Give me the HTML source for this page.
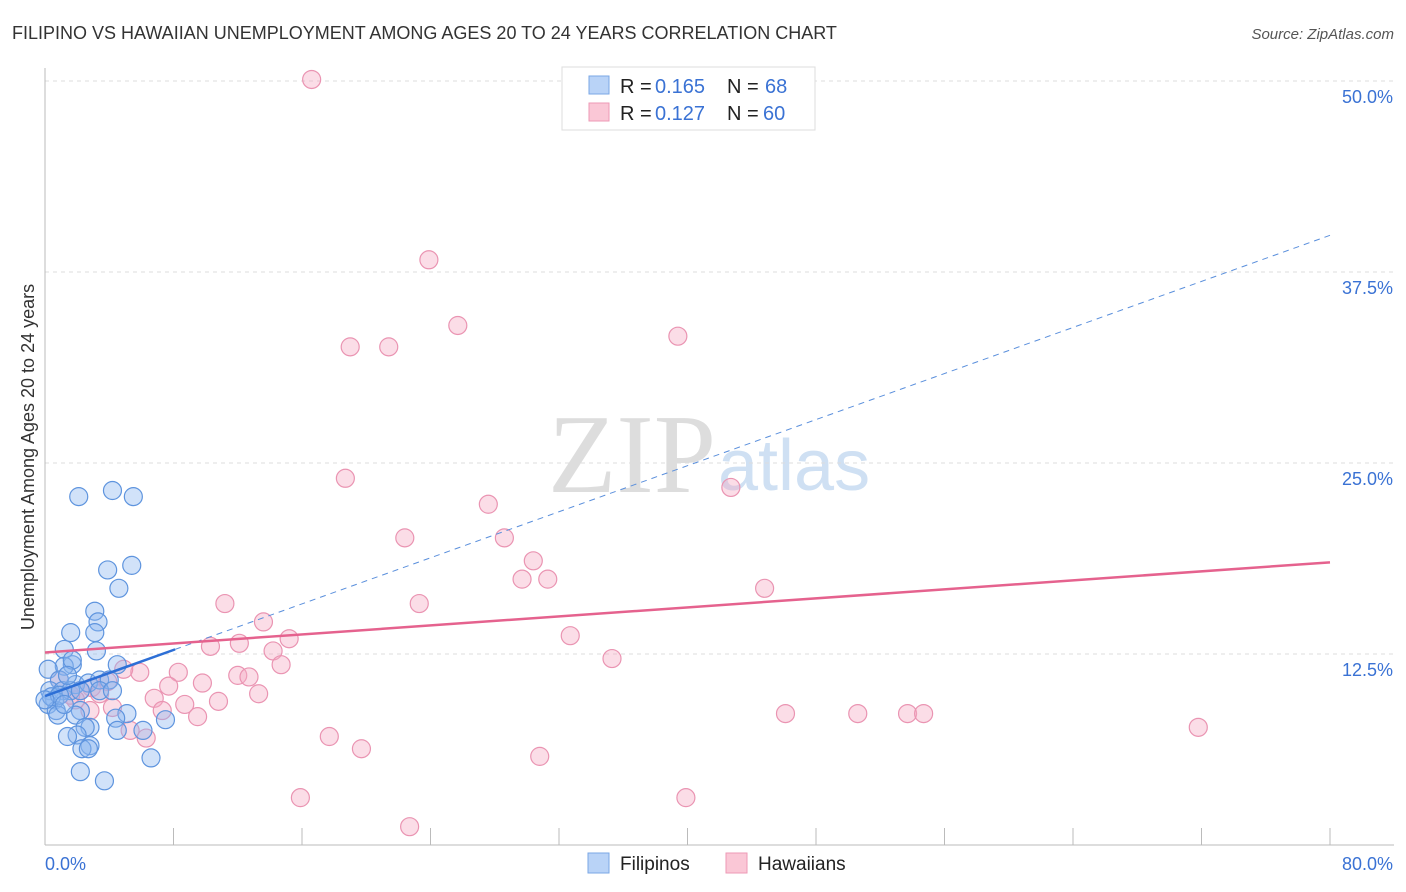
<!DOCTYPE html>
<html><head><meta charset="utf-8">
<style>
body{margin:0;background:#fff;font-family:"Liberation Sans",sans-serif;}
svg{display:block}
</style></head>
<body>
<svg id="chart" width="1406" height="892" xmlns="http://www.w3.org/2000/svg">
<text x="12" y="39" font-size="18" fill="#333">FILIPINO VS HAWAIIAN UNEMPLOYMENT AMONG AGES 20 TO 24 YEARS CORRELATION CHART</text>
<text x="1394" y="39" font-size="15" fill="#555" text-anchor="end" font-style="italic">Source: ZipAtlas.com</text>
<text x="716" y="492" font-size="112" fill="#ddd" text-anchor="end" font-family="Liberation Serif, serif">ZIP</text>
<text x="718" y="490" font-size="72" fill="#cfe0f3">atlas</text>
<g id="grid"></g>
<g id="axes"></g>
<g id="pts"></g>
<g id="trends"></g>
<text transform="translate(34,457) rotate(-90)" font-size="18" fill="#333" text-anchor="middle">Unemployment Among Ages 20 to 24 years</text>
<g>
<rect x="562" y="67" width="253" height="63" fill="#fff" stroke="#ddd"/>
<rect x="589" y="76" width="20" height="18" fill="#b9d3f7" stroke="#7aa7e6"/>
<rect x="589" y="103" width="20" height="18" fill="#fac7d6" stroke="#ee9ab6"/>
<text x="620" y="93" font-size="20" fill="#222">R =</text>
<text x="655" y="93" font-size="20" fill="#3a72d4">0.165</text>
<text x="727" y="93" font-size="20" fill="#222">N =</text>
<text x="765" y="93" font-size="20" fill="#3a72d4">68</text>
<text x="620" y="120" font-size="20" fill="#222">R =</text>
<text x="655" y="120" font-size="20" fill="#3a72d4">0.127</text>
<text x="727" y="120" font-size="20" fill="#222">N =</text>
<text x="763" y="120" font-size="20" fill="#3a72d4">60</text>
</g>
<g>
<rect x="588" y="853" width="21" height="20" fill="#b9d3f7" stroke="#7aa7e6"/>
<text x="620" y="870" font-size="19" fill="#222">Filipinos</text>
<rect x="726" y="853" width="21" height="20" fill="#fac7d6" stroke="#ee9ab6"/>
<text x="758" y="870" font-size="19" fill="#222">Hawaiians</text>
</g>
</svg>
<script>
const blueX=[2.1,4.2,5.5,5.4,3.9,4.6,3.1,3.3,1.6,3.1,1.2,3.2,1.7,1.2,4.5,0.2,0.9,1.9,2.7,3.4,4.0,0.3,1.1,1.6,2.2,0.6,0.2,0.7,2.2,1.9,5.1,4.4,7.5,2.8,2.5,4.5,6.1,2.0,1.4,2.8,2.3,2.7,6.6,2.2,3.7,0.8,0.4,0.9,0,1.2,3.4,4.2,1.7,1.4];
const blueY=[22.8,23.2,22.8,18.3,18.0,16.8,15.3,14.6,13.9,13.9,12.8,12.7,11.8,11.7,11.8,11.5,10.8,10.5,10.6,10.8,10.8,10.1,10.1,10.1,10.1,9.5,9.2,8.8,8.8,8.5,8.6,8.3,8.2,7.7,7.7,7.5,7.5,7.2,7.1,6.5,6.3,6.3,5.7,4.8,4.2,8.5,9.7,9.8,9.5,9.2,10.1,10.1,12.1,11.1];
const pinkX=[16.6,23.9,25.7,19.0,21.4,39.4,18.7,42.7,27.6,22.4,28.6,30.4,29.7,31.3,44.8,11.2,23.3,13.6,32.7,15.2,10.3,12.1,14.2,35.3,14.7,8.3,5.9,12.0,12.7,4.9,7.7,9.8,3.9,2.9,6.8,13.3,10.8,8.7,7.3,4.2,9.5,5.3,6.3,17.7,19.7,30.8,46.1,50.6,53.7,54.7,71.8,15.9,39.9,22.7,2.2,0.9,3.4,1.9,1.6,2.8];
const pinkY=[50.1,38.3,34.0,32.6,32.6,33.3,24.0,23.4,22.3,20.1,20.1,18.6,17.4,17.4,16.8,15.8,15.8,14.6,13.7,13.5,13.0,13.2,12.7,12.2,11.8,11.3,11.3,11.1,11.0,11.5,10.4,10.6,10.7,10.3,9.6,9.9,9.4,9.2,8.8,9.0,8.4,7.5,7.0,7.1,6.3,5.8,8.6,8.6,8.6,8.6,7.7,3.1,3.1,1.2,10.1,10.8,9.9,9.5,9.8,8.8];
const yTicks=[12.5,25,37.5,50];
const yTickLabels=["12.5%","25.0%","37.5%","50.0%"];
const xTicks=[0,8,16,24,32,40,48,56,64,72,80];
const blueTrend=[9.75,39.9];
const blueSolidEnd=8.1;
const pinkTrend=[12.6,18.5];

const NS="http://www.w3.org/2000/svg";
const X=v=>45+v*1285/80;
const Y=v=>845-v*15.28;
function mk(tag,attrs,parent){const e=document.createElementNS(NS,tag);for(const k in attrs)e.setAttribute(k,attrs[k]);parent.appendChild(e);return e;}
const grid=document.getElementById('grid'),axes=document.getElementById('axes'),pts=document.getElementById('pts'),tr=document.getElementById('trends');
yTicks.forEach((t,i)=>{
  const l=mk('line',{x1:45,x2:1394,y1:Y(t),y2:Y(t),stroke:'#ddd','stroke-dasharray':'4,4'},grid);
  
  
  const tx=mk('text',{x:1393,y:Y(t)+22,'font-size':18,fill:'#3a72d4','text-anchor':'end'},axes);
  tx.textContent=yTickLabels[i];
  
  
});
mk('line',{x1:45,x2:45,y1:68,y2:845,stroke:'#bbb'},axes);
mk('line',{x1:45,x2:1394,y1:845,y2:845,stroke:'#bbb'},axes);
xTicks.forEach(t=>{
  const l=mk('line',{x1:X(t),x2:X(t),y1:828,y2:845,stroke:'#bbb'},axes);
  
  
});
const xl0=mk('text',{x:45,y:870,'font-size':18,fill:'#3a72d4'},axes);xl0.textContent="0.0%";


const xl1=mk('text',{x:1393,y:870,'font-size':18,fill:'#3a72d4','text-anchor':'end'},axes);xl1.textContent="80.0%";


pinkX.forEach((x,i)=>{
  const c=mk('circle',{cx:X(x),cy:Y(pinkY[i]),r:9,fill:'rgba(246,170,196,0.4)',stroke:'#ea94b2','stroke-width':1.2},pts);
  
  
});
blueX.forEach((x,i)=>{
  const c=mk('circle',{cx:X(x),cy:Y(blueY[i]),r:9,fill:'rgba(140,182,240,0.4)',stroke:'#5e94de','stroke-width':1.2},pts);
  
  
});
const by=x=>blueTrend[0]+(blueTrend[1]-blueTrend[0])*x/80;
const bd=mk('line',{x1:X(blueSolidEnd),y1:Y(by(blueSolidEnd)),x2:X(80),y2:Y(by(80)),stroke:'#5a8fdc','stroke-width':1,'stroke-dasharray':'6,5'},tr);


const pl=mk('line',{x1:X(0),y1:Y(pinkTrend[0]),x2:X(80),y2:Y(pinkTrend[1]),stroke:'#e5628e','stroke-width':2.5},tr);


const bl=mk('line',{x1:X(0),y1:Y(by(0)),x2:X(blueSolidEnd),y2:Y(by(blueSolidEnd)),stroke:'#2d6fd6','stroke-width':2.5},tr);


</script>
</body></html>
